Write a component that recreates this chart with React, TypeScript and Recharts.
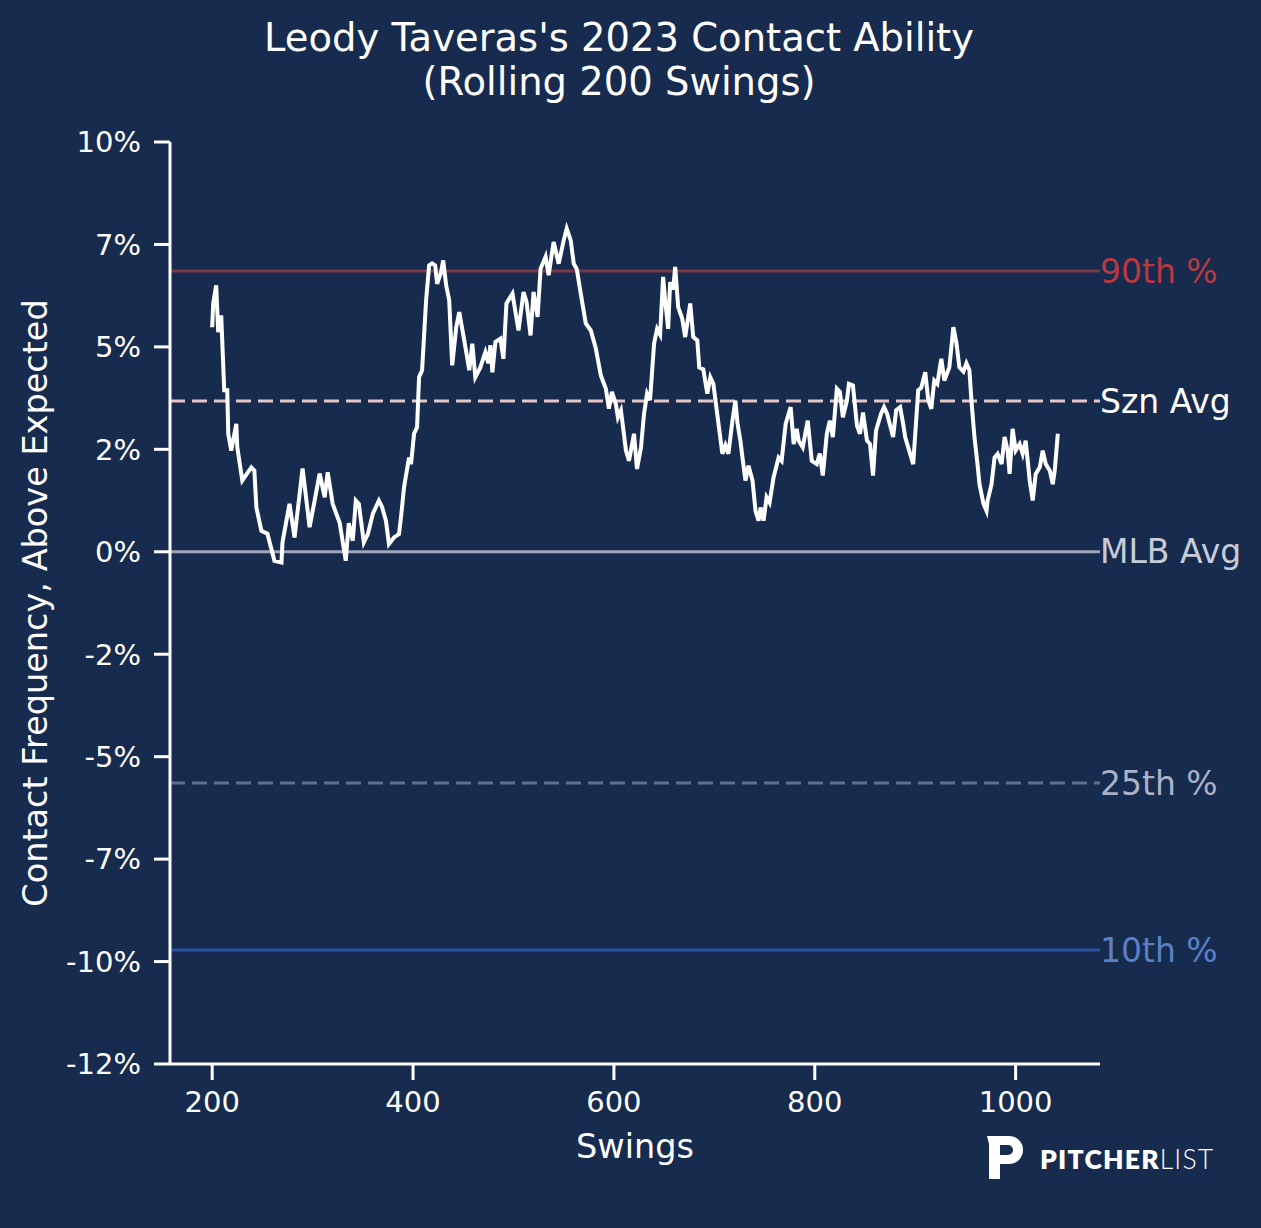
import React from "react";
import {
  Label,
  Line,
  LineChart,
  ReferenceLine,
  XAxis,
  YAxis,
} from "recharts";

// Rolling 200-swing contact frequency above expected (%).
const SWINGS = [
  200, 201, 204, 206, 209, 212, 215, 216, 219, 224, 225, 230, 239, 242, 244,
  249, 255, 262, 269, 270, 277, 282, 290, 297, 302, 307, 312, 315, 320, 327,
  333, 336, 340, 343, 346, 351, 355, 360, 366, 369, 373, 376, 381, 386, 388,
  391, 396, 398, 401, 404, 406, 409, 413, 416, 419, 422, 424, 428, 430, 433,
  436, 439, 443, 446, 451, 456, 459, 462, 467, 472, 475, 477, 479, 482, 487,
  490, 493, 499, 502, 505, 510, 513, 517, 520, 524, 527, 532, 535, 540, 545,
  550, 553, 557, 560, 563, 567, 572, 577, 582, 587, 592, 595, 598, 602, 604,
  607, 612, 615, 620, 623, 627, 630, 633, 636, 640, 643, 646, 649, 651, 654,
  656, 659, 661, 664, 668, 671, 676, 679, 683, 685, 689, 693, 696, 699, 705,
  708, 711, 714, 718, 721, 723, 726, 728, 731, 734, 738, 741, 744, 746, 749,
  752, 755, 759, 764, 767, 771, 776, 779, 782, 784, 788, 793, 797, 802, 805,
  808, 812, 815, 818, 822, 825, 828, 832, 834, 838, 842, 845, 848, 852, 855,
  858, 861, 866, 869, 872, 878, 881, 885, 888, 890, 894, 898, 903, 906, 910,
  913, 916, 919, 922, 926, 929, 934, 938, 941, 944, 948, 951, 954, 956, 959,
  962, 964, 968, 971, 972, 976, 979, 982, 986, 989, 992, 994, 997, 1000, 1004,
  1007, 1010, 1014, 1017, 1020, 1024, 1027, 1030, 1034, 1037, 1039, 1042,
];
const CONTACT = [
  5.48, 6.06, 6.5, 5.36, 5.77, 3.94, 3.94, 2.88, 2.47, 3.12, 2.55, 1.74, 2.06,
  1.98, 1.08, 0.51, 0.44, -0.22, -0.26, 0.23, 1.17, 0.35, 2.03, 0.6, 1.25,
  1.91, 1.33, 1.94, 1.17, 0.7, -0.22, 0.7, 0.27, 1.25, 1.17, 0.23, 0.43, 0.93,
  1.25, 1.1, 0.76, 0.19, 0.35, 0.43, 0.84, 1.57, 2.3, 2.14, 2.88, 3.04, 4.26,
  4.43, 6.14, 6.99, 7.04, 6.99, 6.54, 6.83, 7.11, 6.5, 6.14, 4.55, 5.48, 5.85,
  5.16, 4.43, 5.08, 4.26, 4.5, 4.87, 4.6, 5.04, 4.38, 5.12, 5.2, 4.71, 6.06,
  6.3, 5.85, 5.4, 6.34, 6.1, 5.28, 6.34, 5.73, 6.91, 7.2, 6.75, 7.56, 7.03,
  7.6, 7.89, 7.6, 7.03, 6.9, 6.3, 5.57, 5.4, 4.96, 4.3, 3.98, 3.49, 3.9, 3.6,
  3.28, 3.45, 2.47, 2.22, 2.88, 2.02, 2.55, 3.37, 3.86, 3.7, 5.08, 5.44, 5.3,
  6.71, 6.14, 5.44, 6.58, 6.4, 6.95, 5.97, 5.69, 5.24, 6.06, 5.24, 5.16, 4.5,
  4.45, 3.86, 4.26, 4.1, 2.96, 2.39, 2.6, 2.39, 3.2, 3.69, 3.15, 2.7, 2.3,
  1.74, 2.1, 1.74, 1.0, 0.76, 1.08, 0.76, 1.33, 1.2, 1.82, 2.3, 2.22, 3.12,
  3.53, 2.63, 3.0, 2.71, 2.55, 3.2, 2.22, 2.14, 2.4, 1.86, 2.88, 3.2, 2.8,
  3.98, 3.9, 3.28, 3.69, 4.1, 4.06, 3.08, 2.88, 3.4, 2.71, 2.63, 1.86, 2.96,
  3.37, 3.53, 3.37, 2.8, 3.45, 3.53, 3.12, 2.8, 2.47, 2.14, 3.94, 4.0, 4.38,
  3.7, 3.49, 4.18, 4.1, 4.71, 4.18, 4.5, 5.48, 5.1, 4.5, 4.4, 4.6, 4.43, 3.69,
  2.8, 2.14, 1.65, 1.17, 1.0, 1.24, 1.65, 2.3, 2.39, 2.14, 2.8, 2.47, 1.9,
  3.0, 2.47, 2.63, 2.39, 2.71, 1.74, 1.25, 1.9, 2.06, 2.47, 2.14, 1.98, 1.65,
  2.0, 2.88,
];

const X_TICKS = [200, 400, 600, 800, 1000];
const Y_TICKS = [10, 7.5, 5, 2.5, 0, -2.5, -5, -7.5, -10, -12.5];

// percentile / average benchmarks
const P90 = 6.85;
const SZN_AVG = 3.68;
const MLB_AVG = 0;
const P25 = -5.64;
const P10 = -9.72;

const BG = "#172b4f";
const FONT = "'DejaVu Sans', sans-serif";

const data = SWINGS.map((swing, i) => ({ swing, contact: CONTACT[i] }));

const tickStyle = { fill: "#ffffff", fontSize: 29, fontFamily: FONT };
const axisStroke = { stroke: "#ffffff", strokeWidth: 3 };

function YTitle({ viewBox }: any) {
  const cy = viewBox.y + viewBox.height / 2;
  return (
    <text
      x={35}
      y={cy}
      transform={`rotate(-90 35 ${cy})`}
      textAnchor="middle"
      dominantBaseline="central"
      fill="#ffffff"
      fontSize={33.5}
      fontFamily={FONT}
    >
      Contact Frequency, Above Expected
    </text>
  );
}

function XTitle({ viewBox }: any) {
  return (
    <text
      x={viewBox.x + viewBox.width / 2}
      y={1146}
      textAnchor="middle"
      dominantBaseline="central"
      fill="#ffffff"
      fontSize={33.5}
      fontFamily={FONT}
    >
      Swings
    </text>
  );
}

function refLabel(value: string, color: string) {
  return {
    value,
    position: "right" as const,
    offset: 0,
    fill: color,
    fontSize: 33,
    fontFamily: FONT,
  };
}

function Logo() {
  return (
    <svg
      width={250}
      height={52}
      style={{ position: "absolute", left: 984, top: 1133 }}
    >
      <path
        d="M3 3 H25 A14 14 0 0 1 25 31 H16 V46 H5 V11 Z M16 12 H24 A5 5 0 0 1 24 22 H16 Z"
        fill="#ffffff"
        fillRule="evenodd"
      />
      <text
        x={56}
        y={36}
        fill="#ffffff"
        fontSize={26.5}
        fontFamily="Lato, 'Open Sans', sans-serif"
        letterSpacing={1.2}
      >
        <tspan fontWeight={800}>PITCHER</tspan>
        <tspan fontWeight={300}>LIST</tspan>
      </text>
    </svg>
  );
}

export default function App() {
  return (
    <div
      style={{
        position: "fixed",
        left: 0,
        top: 0,
        width: 1261,
        height: 1228,
        background: BG,
        fontFamily: FONT,
      }}
    >
      <div
        style={{
          position: "absolute",
          left: 0,
          top: 16,
          width: 1238,
          textAlign: "center",
          color: "#ffffff",
          fontSize: 38.5,
          lineHeight: "44px",
        }}
      >
        Leody Taveras's 2023 Contact Ability
        <br />
        (Rolling 200 Swings)
      </div>
      <LineChart
        width={1261}
        height={1228}
        data={data}
        margin={{ top: 142, right: 161, bottom: 0, left: 0 }}
        style={{ position: "absolute", left: 0, top: 0 }}
      >
        <XAxis
          dataKey="swing"
          type="number"
          domain={[158, 1084]}
          ticks={X_TICKS}
          allowDataOverflow
          height={164}
          tick={tickStyle}
          tickSize={16}
          tickMargin={11}
          axisLine={axisStroke}
          tickLine={axisStroke}
        >
          <Label content={XTitle} />
        </XAxis>
        <YAxis
          type="number"
          domain={[-12.5, 10]}
          ticks={Y_TICKS}
          allowDataOverflow
          width={170}
          tick={tickStyle}
          tickSize={16}
          tickMargin={13}
          tickFormatter={(v: number) => `${Math.trunc(v)}%`}
          axisLine={axisStroke}
          tickLine={axisStroke}
        >
          <Label content={YTitle} />
        </YAxis>
        <ReferenceLine
          y={P90}
          stroke="#7d3548"
          strokeWidth={3}
          label={refLabel("90th %", "#b9393f")}
        />
        <ReferenceLine
          y={SZN_AVG}
          stroke="#e8c5c5"
          strokeWidth={3}
          strokeDasharray="15 7"
          label={refLabel("Szn Avg", "#ffffff")}
        />
        <ReferenceLine
          y={MLB_AVG}
          stroke="#9ea6b8"
          strokeWidth={3}
          label={refLabel("MLB Avg", "#c7ccd8")}
        />
        <ReferenceLine
          y={P25}
          stroke="#5e6f8f"
          strokeWidth={3}
          strokeDasharray="15 7"
          label={refLabel("25th %", "#a9b3c8")}
        />
        <ReferenceLine
          y={P10}
          stroke="#2854a0"
          strokeWidth={3}
          label={refLabel("10th %", "#5b80c3")}
        />
        <Line
          type="linear"
          dataKey="contact"
          stroke="#ffffff"
          strokeWidth={4}
          dot={false}
          isAnimationActive={false}
        />
      </LineChart>
      <Logo />
    </div>
  );
}
